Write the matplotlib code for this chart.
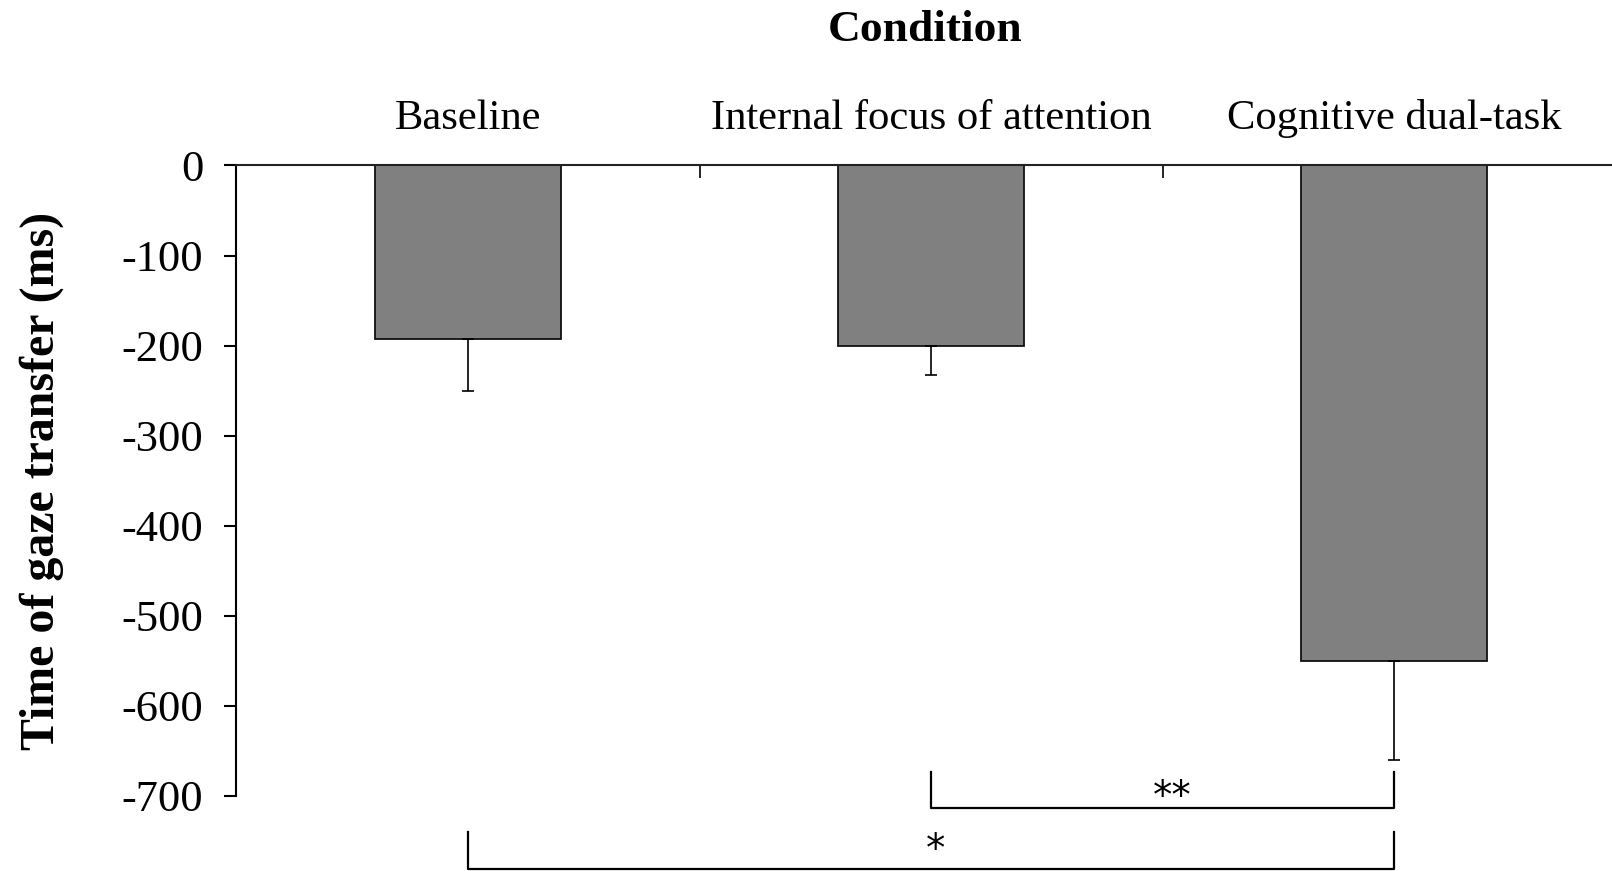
import matplotlib.pyplot as plt
import numpy as np

plt.rcParams["font.family"] = ["Liberation Serif", "DejaVu Serif"]

conditions = ["Baseline", "Internal focus of attention", "Cognitive dual-task"]
gaze_ms = [-193, -201, -550]
gaze_err = [57, 32, 110]
y_ticks = [0, -100, -200, -300, -400, -500, -600, -700]

# significance brackets: (left condition, right condition, top, bottom, label, label x, label y)
brackets = [
    (1, 2, -674, -714, "**", 1.52, -714),
    (0, 2, -740, -781, "*", 1.01, -772),
]


def main() -> None:
    fig = plt.figure(figsize=(16.12, 8.71), dpi=100)
    ax = fig.add_axes([0.1467, 0.0864, 0.8617, 0.7236])

    x = np.arange(len(conditions))
    ax.bar(x, gaze_ms, width=0.4, color="#808080", edgecolor="#111111",
           linewidth=1.3, zorder=2)
    ax.errorbar(x, gaze_ms, yerr=[gaze_err, np.zeros(len(x))], fmt="none",
                ecolor="black", elinewidth=1.2, capsize=4, capthick=1.2,
                zorder=3)

    ax.set_xlim(-0.5, 2.5)
    ax.set_ylim(-700, 0)

    for side in ("right", "bottom"):
        ax.spines[side].set_visible(False)
    ax.spines["left"].set_linewidth(1.5)
    ax.spines["top"].set_linewidth(1.5)
    ax.spines["top"].set_color("#222222")

    ax.set_yticks(y_ticks)
    ax.set_yticklabels([str(v) for v in y_ticks], fontsize=32)
    ax.tick_params(axis="y", direction="out", length=9, width=1.5, pad=15)

    ax.xaxis.set_ticks_position("top")
    ax.set_xticks([0.5, 1.5])
    ax.set_xticklabels(["", ""])
    ax.tick_params(axis="x", which="major", direction="in", length=9,
                   width=1.2, top=True, bottom=False)
    ax.set_xticks(x, minor=True)
    ax.set_xticklabels(conditions, minor=True, fontsize=30.7)
    ax.tick_params(axis="x", which="minor", length=0, pad=20, top=True,
                   bottom=False, labeltop=True, labelbottom=False)

    ax.set_ylabel("Time of gaze transfer (ms)", fontsize=34.5, fontweight="bold")
    ax.yaxis.set_label_coords(-0.124, 0.5)
    fig.text(0.574, 0.965, "Condition", fontsize=32.7, fontweight="bold",
             ha="center", va="center")

    for left, right, top, bottom, label, label_x, label_y in brackets:
        ax.plot([left, left, right, right], [top, bottom, bottom, top],
                color="black", linewidth=1.6, clip_on=False)
        ax.text(label_x, label_y, label, fontsize=28, family="DejaVu Sans",
                ha="center", va="baseline", clip_on=False)

    fig.savefig("out.png", dpi=100)
    plt.close(fig)


if __name__ == "__main__":
    main()
